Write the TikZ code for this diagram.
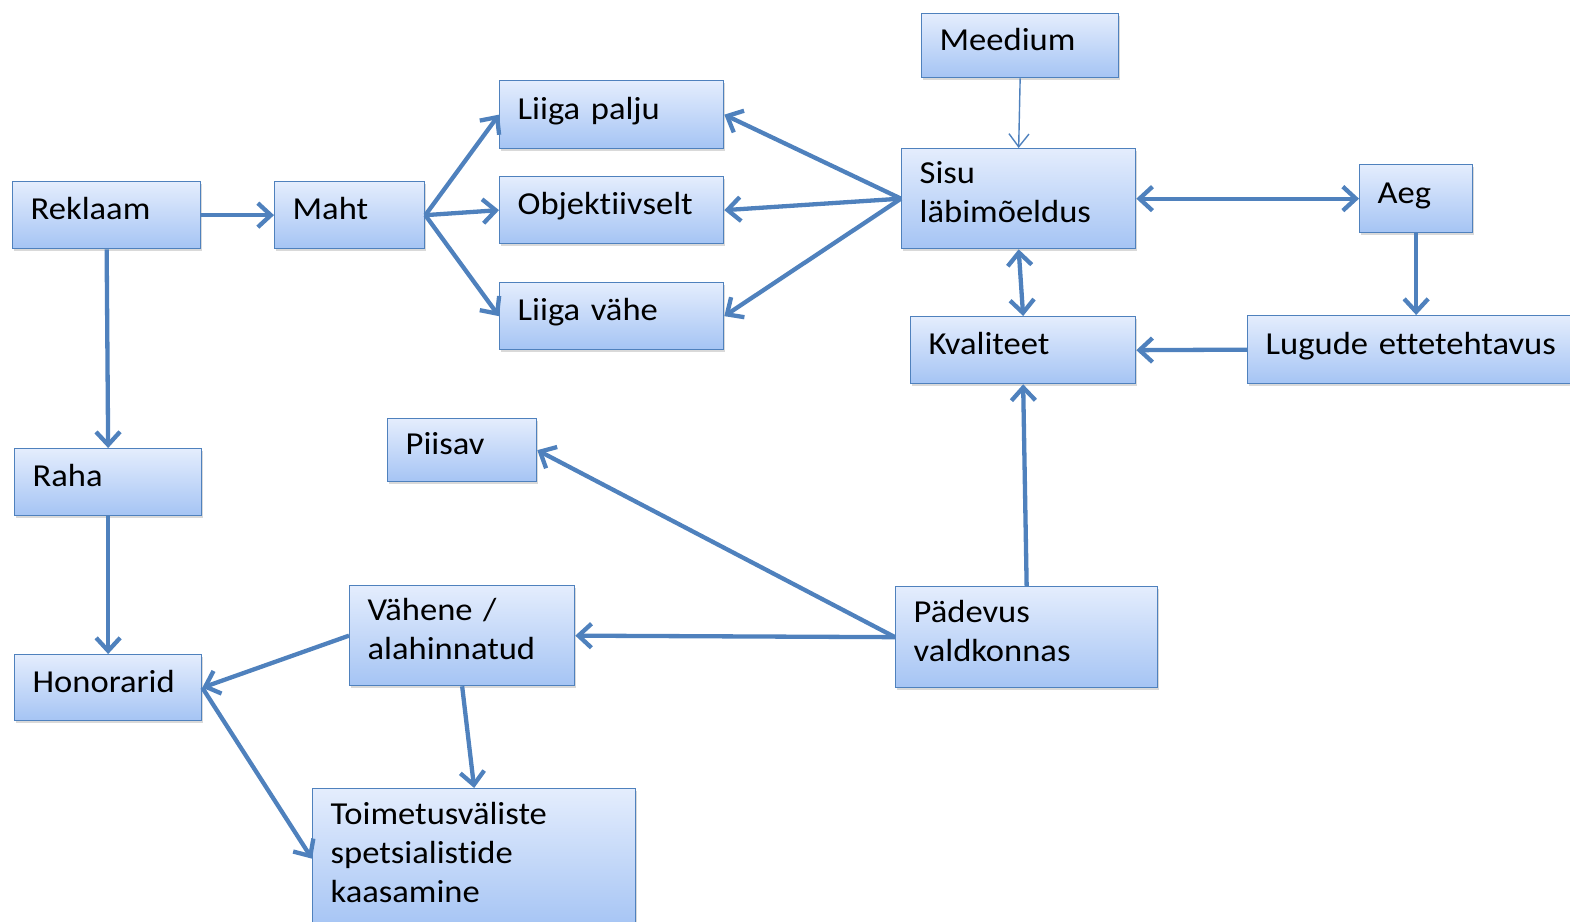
\documentclass[tikz,border=0pt]{standalone}
\usepackage{fontspec}
\setmainfont{Carlito}[FakeStretch=1.08,Ligatures={NoCommon}]
\usetikzlibrary{arrows.meta,shadows}
\definecolor{boxtop}{HTML}{E4EDFD}
\definecolor{boxbot}{HTML}{A5C4F4}
\definecolor{edgeblue}{HTML}{4F81BD}
\newcommand{\sstr}{\rule[-18pt]{0pt}{45pt}}
\newcommand{\estr}{\rule[-18pt]{0pt}{1pt}}
\begin{document}
\begin{tikzpicture}[x=1pt,y=-1pt,
  box/.style={draw=edgeblue, line width=1.3pt, top color=boxtop, bottom color=boxbot,
    anchor=north west, inner xsep=18pt, inner ysep=0pt, align=left,
    font=\fontsize{32}{39}\selectfont,
    drop shadow={shadow xshift=1.5pt,shadow yshift=-2.5pt,opacity=0.3}},
  conn/.style={draw=edgeblue, line width=4.3pt, -{Straight Barb[length=13pt,width=24pt]}},
  conn2/.style={draw=edgeblue, line width=4.3pt, {Straight Barb[length=13pt,width=24pt]}-{Straight Barb[length=13pt,width=24pt]}},
  thin/.style={draw=edgeblue, line width=1.4pt, -{Straight Barb[length=13pt,width=20pt]}}]
\useasboundingbox (0,0) rectangle (1570,921);
\clip (0,0) rectangle (1570,921);

\node[box, text width=161pt, minimum height=64pt] (med) at (921,13) {\sstr Meedium};
\node[box, text width=198pt, minimum height=100pt] (sisu) at (901,148) {\strut Sisu\\läbimõeldus\estr};
\node[box, text width=152pt, minimum height=67pt] (rek) at (12,181) {\sstr Reklaam};
\node[box, text width=114pt, minimum height=67pt] (maht) at (274,181) {\sstr Maht};
\node[box, text width=188pt, minimum height=68pt] (palju) at (499,80) {\sstr Liiga palju};
\node[box, text width=188pt, minimum height=67pt] (obj) at (499,176) {\sstr Objektiivselt};
\node[box, text width=188pt, minimum height=67pt] (vahe) at (499,282) {\sstr Liiga vähe};
\node[box, text width=77pt, minimum height=68pt] (aeg) at (1359,164) {\sstr Aeg};
\node[box, text width=189pt, minimum height=67pt] (kval) at (910,316) {\sstr Kvaliteet};
\node[box, text width=304pt, minimum height=68pt] (lug) at (1247,315) {\sstr Lugude ettetehtavus};
\node[box, text width=113pt, minimum height=63pt] (piisav) at (387,418) {\sstr Piisav};
\node[box, text width=151pt, minimum height=67pt] (raha) at (14,448) {\sstr Raha};
\node[box, text width=151pt, minimum height=66pt] (hon) at (14,654) {\sstr Honorarid};
\node[box, text width=189pt, minimum height=100pt] (vah) at (349,585) {\strut Vähene /\\alahinnatud\estr};
\node[box, text width=226pt, minimum height=101pt] (paed) at (895,586) {\strut Pädevus\\valdkonnas\estr};
\node[box, text width=287pt, minimum height=140pt] (toim) at (312,788) {\strut Toimetusväliste\\spetsialistide\\kaasamine\estr};

\draw[conn] (rek.east) -- (maht.west);
\draw[conn] (maht.east) -- (palju.west);
\draw[conn] (maht.east) -- (obj.west);
\draw[conn] (maht.east) -- (vahe.west);
\draw[conn] (sisu.west) -- (palju.east);
\draw[conn] (sisu.west) -- (obj.east);
\draw[conn] (sisu.west) -- (vahe.east);
\draw[thin] (med.south) -- (sisu.north);
\draw[conn2] (sisu.east) -- (aeg.west);
\draw[conn2] (sisu.south) -- (kval.north);
\draw[conn] (aeg.south) -- (aeg.south |- lug.north);
\draw[conn] (lug.west) -- (kval.east);
\draw[conn] (paed.north) -- (kval.south);
\draw[conn] (paed.west) -- (piisav.east);
\draw[conn] (paed.west) -- (vah.east);
\draw[conn] (rek.south) -- (raha.north);
\draw[conn] (raha.south) -- (hon.north);
\draw[conn] (vah.west) -- (hon.east);
\draw[conn] (hon.east) -- (toim.west);
\draw[conn] (vah.south) -- (toim.north);
\end{tikzpicture}
\end{document}
